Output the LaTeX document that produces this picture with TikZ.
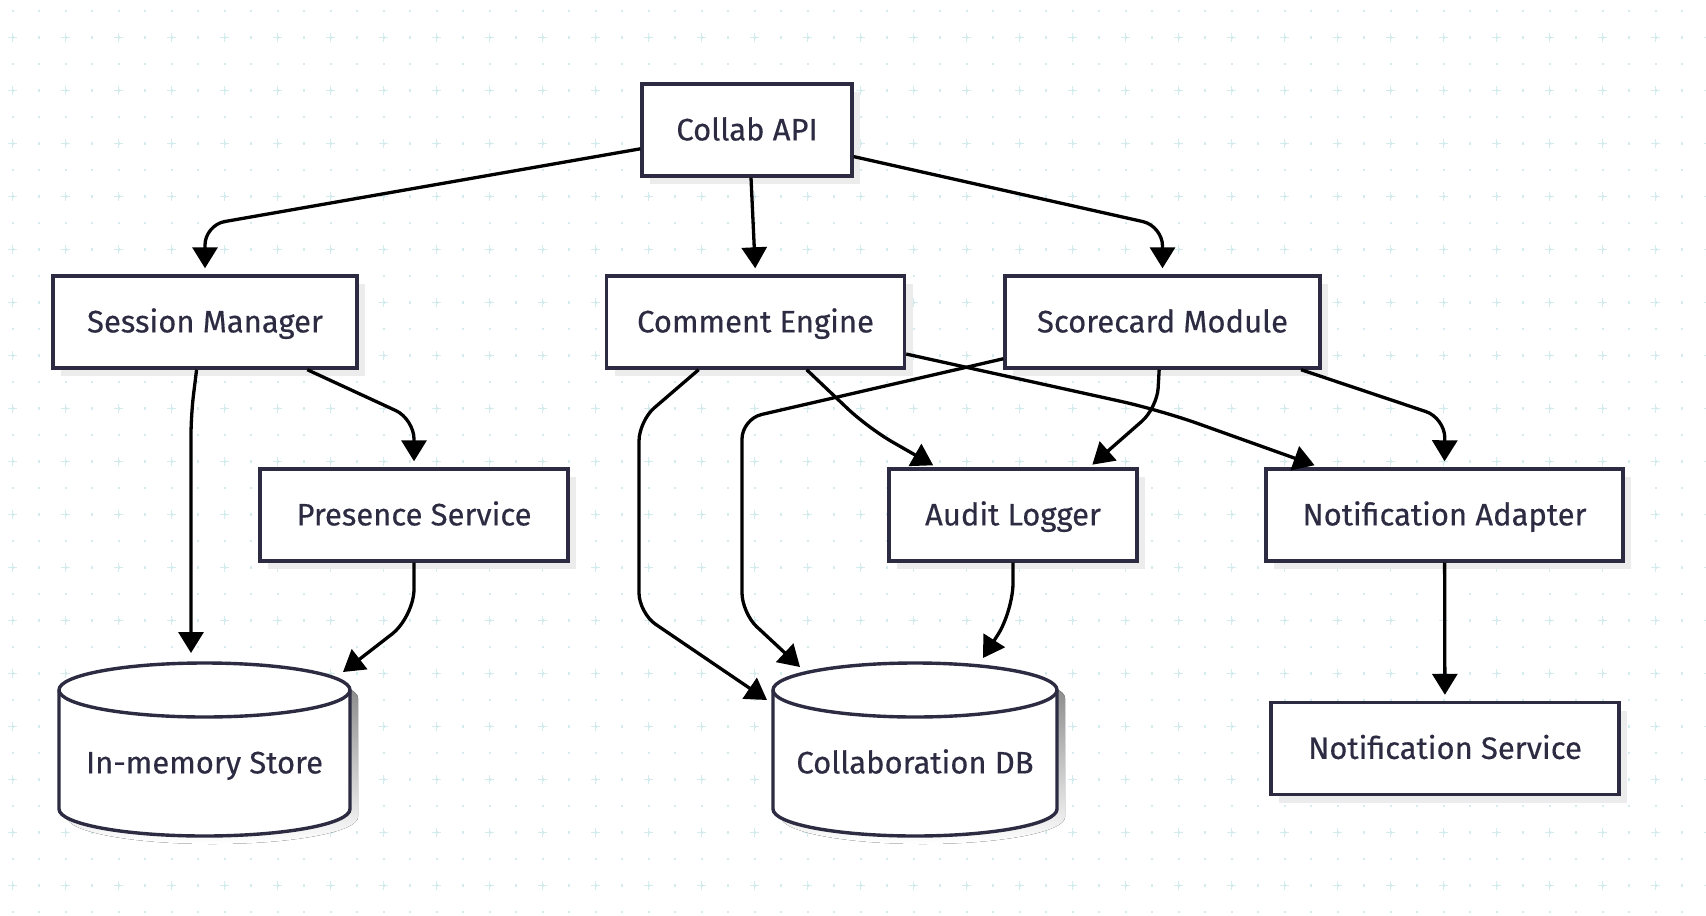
\documentclass[tikz,border=0pt]{standalone}
\usepackage{fontspec}
\setmainfont{Fira Sans}[FakeBold=0.4]
\usetikzlibrary{arrows.meta,shadows}
\definecolor{ink}{RGB}{44,43,66}
\definecolor{gridc}{RGB}{212,236,238}
\definecolor{shade}{RGB}{236,236,236}

\begin{document}
\begin{tikzpicture}[x=0.5pt,y=-0.5pt,>={Triangle[length=10.5pt,width=12.5pt]}]
\tikzstyle{box}=[draw=ink,line width=1.7pt,fill=white,text=ink,minimum height=46pt,inner sep=0pt,text height=14pt,text depth=3.6pt,font=\fontsize{15.5}{18}\selectfont,general shadow={fill=shade,shadow xshift=4pt,shadow yshift=-4pt}]
\tikzstyle{dblabel}=[text=ink,inner sep=0pt,text height=14pt,text depth=3.6pt,font=\fontsize{15.5}{18}\selectfont]
\tikzstyle{link}=[->,line width=1.65pt,rounded corners=10pt]

% canvas and dotted grid
\useasboundingbox[fill=white] (0,0) rectangle (1706,915);
\foreach \i in {0,...,64}
  \foreach \j in {0,...,34}
    \fill[gridc] (12.7+26.5*\i-1.2,11+26.5*\j-1.2) rectangle ++(2.4,2.4);
\foreach \i in {0,2,...,64}
  \foreach \j in {1,3,...,33}
    \draw[gridc,line width=0.75pt] (12.7+26.5*\i-4.5,11+26.5*\j) -- ++(9,0)
      (12.7+26.5*\i,11+26.5*\j-4.5) -- ++(0,9);

% services
\node [box,minimum width=105pt] (api) at (747,130) {Collab API};
\node [box,minimum width=152pt] (sess) at (205,322) {Session Manager};
\node [box,minimum width=149pt] (comm) at (755.5,322) {Comment Engine};
\node [box,minimum width=157.5pt] (score) at (1162.5,322) {Scorecard Module};
\node [box,minimum width=154pt] (pres) at (414,515) {Presence Service};
\node [box,minimum width=124pt] (audit) at (1013,515) {Audit Logger};
\node [box,minimum width=178.5pt] (nadapt) at (1444.5,515) {Notification Adapter};
\node [box,minimum width=174pt] (nserv) at (1445,748.5) {Notification Service};

% stores
\foreach \cx/\rx/\nm/\txt in {204.5/145.5/mem/In-memory Store,915/142/db/Collaboration DB}{
  \fill[shade] (\cx-\rx+8,698) -- (\cx-\rx+8,817)
    arc[start angle=180,end angle=0,x radius=\rx,y radius=27] -- (\cx+\rx+8,698)
    arc[start angle=0,end angle=-180,x radius=\rx,y radius=27] -- cycle;
  \draw[ink,line width=1.7pt,fill=white] (\cx-\rx,690) -- (\cx-\rx,809)
    arc[start angle=180,end angle=0,x radius=\rx,y radius=27] -- (\cx+\rx,690)
    arc[start angle=0,end angle=-180,x radius=\rx,y radius=27] -- cycle;
  \draw[ink,line width=1.7pt] (\cx-\rx,690) arc[start angle=180,end angle=0,x radius=\rx,y radius=27];
  \node [dblabel] (\nm) at (\cx,763) {\txt};
}
\coordinate (mem-a) at (191,653);
\coordinate (mem-b) at (343,672);
\coordinate (db-a) at (767,700);
\coordinate (db-b) at (800,667);
\coordinate (db-c) at (983,658);

% connectors
\draw[link,shorten >=3pt] (api.190) -- (205,225) -- (sess.north);
\draw[link,shorten >=3pt] ([xshift=2pt]api.south) -- (comm.north);
\draw[link,shorten >=3pt] (api.346) -- (1162.5,226) -- (score.north);
\draw[link] (sess.260) -- (191,415) -- (mem-a);
\draw[link,shorten >=3pt] (sess.335) -- (414,419) -- (pres.north);
\draw[link,rounded corners=14pt] (pres.south) -- (414,617) -- (mem-b);
\draw[link] (comm.220) -- (639,421) -- (639,613) -- (db-a);
\draw[link,shorten >=2pt,rounded corners=14pt] (comm.317) -- (868,428) -- (audit.148);
\draw[link,shorten >=3pt,rounded corners=20pt] (comm.348) -- (1160,410) -- (nadapt.159);
\draw[link] (score.193) -- (742,419) -- (742,613) -- (db-b);
\draw[link,shorten >=2pt] (score.266) -- (1157,408) -- (audit.32);
\draw[link,shorten >=3pt] (score.341) -- (1445,418) -- (nadapt.north);
\draw[link,rounded corners=14pt] (audit.south) -- (1013,611) -- (db-c);
\draw[link,shorten >=3pt] (nadapt) -- (nserv);
\end{tikzpicture}
\end{document}
